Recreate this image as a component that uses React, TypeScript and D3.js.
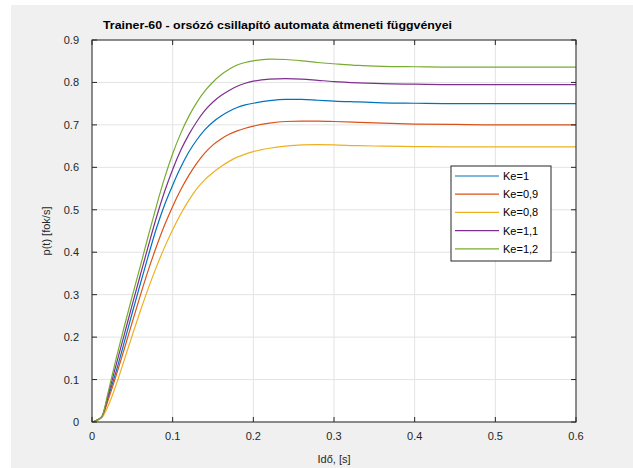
import React from "react";
import * as d3 from "d3";

const TITLE = "Trainer-60 - orsózó csillapító automata átmeneti függvényei";
const X_LABEL = "Idő, [s]";
const Y_LABEL = "p(t) [fok/s]";

const xTicks = [0, 0.1, 0.2, 0.3, 0.4, 0.5, 0.6];
const yTicks = [0, 0.1, 0.2, 0.3, 0.4, 0.5, 0.6, 0.7, 0.8, 0.9];

const time = [0, 0.012, 0.02, 0.03, 0.04, 0.05, 0.06, 0.07, 0.08, 0.09, 0.1, 0.11, 0.12, 0.13, 0.14, 0.15, 0.16, 0.17, 0.18, 0.19, 0.2, 0.22, 0.24, 0.26, 0.28, 0.3, 0.33, 0.36, 0.4, 0.45, 0.5, 0.55, 0.6];

const ke10 = [0, 0.012, 0.058, 0.12, 0.188, 0.258, 0.326, 0.393, 0.457, 0.512, 0.558, 0.6, 0.636, 0.665, 0.689, 0.707, 0.721, 0.732, 0.741, 0.747, 0.751, 0.757, 0.76, 0.76, 0.758, 0.756, 0.754, 0.752, 0.751, 0.75, 0.75, 0.75, 0.75];
const ke09 = [0, 0.011, 0.052, 0.11, 0.172, 0.236, 0.299, 0.359, 0.414, 0.464, 0.508, 0.547, 0.581, 0.61, 0.634, 0.653, 0.667, 0.678, 0.686, 0.692, 0.697, 0.704, 0.708, 0.709, 0.709, 0.708, 0.706, 0.704, 0.702, 0.701, 0.7, 0.7, 0.7];
const ke08 = [0, 0.01, 0.038, 0.088, 0.146, 0.205, 0.262, 0.316, 0.366, 0.412, 0.453, 0.49, 0.522, 0.55, 0.571, 0.588, 0.602, 0.614, 0.624, 0.631, 0.637, 0.645, 0.65, 0.653, 0.6535, 0.653, 0.651, 0.65, 0.649, 0.648, 0.648, 0.648, 0.648];
const ke11 = [0, 0.012, 0.064, 0.135, 0.206, 0.277, 0.347, 0.416, 0.483, 0.543, 0.595, 0.64, 0.677, 0.708, 0.734, 0.754, 0.769, 0.781, 0.791, 0.798, 0.803, 0.808, 0.809, 0.808, 0.805, 0.802, 0.799, 0.797, 0.796, 0.795, 0.795, 0.795, 0.795];
const ke12 = [0, 0.012, 0.07, 0.15, 0.225, 0.297, 0.368, 0.44, 0.51, 0.575, 0.632, 0.68, 0.72, 0.753, 0.78, 0.801, 0.818, 0.831, 0.841, 0.847, 0.851, 0.855, 0.854, 0.851, 0.847, 0.844, 0.84, 0.838, 0.837, 0.836, 0.836, 0.836, 0.836];

const seriesNames = ["Ke=1", "Ke=0,9", "Ke=0,8", "Ke=1,1", "Ke=1,2"];
const seriesValues = [ke10, ke09, ke08, ke11, ke12];
const seriesColors = ["#0072BD", "#D95319", "#EDB120", "#7E2F8E", "#77AC30"];

const W = 633;
const H = 468;
const L = 92, R = 576, T = 40, B = 422;

export default function App() {
  const x = d3.scaleLinear().domain([0, 0.6]).range([L, R]);
  const y = d3.scaleLinear().domain([0, 0.9]).range([B, T]);
  const line = d3
    .line<number>()
    .x((_, i) => x(time[i]))
    .y((v) => y(v))
    .curve(d3.curveMonotoneX);
  const font = "'Liberation Sans', Arial, Helvetica, sans-serif";
  const axisColor = "#262626";
  const tk = 5;
  const legX = 451, legY = 166, legW = 100, legH = 95;
  return (
    <svg width={W} height={H} style={{ position: "absolute", left: 0, top: 0 }} fontFamily={font}>
      <rect x={0} y={0} width={W} height={H} fill="#ffffff" />
      <rect x={11} y={5} width={W - 11} height={H - 5} fill="#f0f0f0" />
      <rect x={L} y={T} width={R - L} height={B - T} fill="#ffffff" />
      {xTicks.map((t) => (
        <line key={"gx" + t} x1={x(t)} x2={x(t)} y1={T} y2={B} stroke="#e3e3e3" strokeWidth={1} />
      ))}
      {yTicks.map((t) => (
        <line key={"gy" + t} x1={L} x2={R} y1={y(t)} y2={y(t)} stroke="#e3e3e3" strokeWidth={1} />
      ))}
      <defs>
        <clipPath id="clip">
          <rect x={L} y={T - 2} width={R - L} height={B - T + 2} />
        </clipPath>
      </defs>
      <g clipPath="url(#clip)">
        {seriesValues.map((vals, i) => (
          <path key={i} d={line(vals) || ""} fill="none" stroke={seriesColors[i]} strokeWidth={1.2} />
        ))}
      </g>
      <rect x={L} y={T} width={R - L} height={B - T} fill="none" stroke={axisColor} strokeWidth={1} />
      {xTicks.map((t) => (
        <g key={"tx" + t}>
          <line x1={x(t)} x2={x(t)} y1={B} y2={B - tk} stroke={axisColor} />
          <line x1={x(t)} x2={x(t)} y1={T} y2={T + tk} stroke={axisColor} />
          <text x={x(t)} y={B + 18} textAnchor="middle" fontSize={11} fill={axisColor}>
            {String(t)}
          </text>
        </g>
      ))}
      {yTicks.map((t) => (
        <g key={"ty" + t}>
          <line x1={L} x2={L + tk} y1={y(t)} y2={y(t)} stroke={axisColor} />
          <line x1={R} x2={R - tk} y1={y(t)} y2={y(t)} stroke={axisColor} />
          <text x={L - 13} y={y(t) + 4} textAnchor="end" fontSize={11} fill={axisColor}>
            {String(t)}
          </text>
        </g>
      ))}
      <text x={103} y={29} fontSize={11.5} fontWeight="bold" fill="#000" textLength={349} lengthAdjust="spacingAndGlyphs">
        {TITLE}
      </text>
      <text x={(L + R) / 2} y={463} textAnchor="middle" fontSize={11} fill={axisColor}>
        {X_LABEL}
      </text>
      <text transform={`translate(50, ${(T + B) / 2}) rotate(-90)`} textAnchor="middle" fontSize={11} fill={axisColor}>
        {Y_LABEL}
      </text>
      <rect x={legX} y={legY} width={legW} height={legH} fill="#ffffff" stroke={axisColor} strokeWidth={1} />
      {seriesNames.map((n, i) => {
        const ly = 176 + i * 18.2;
        return (
          <g key={n}>
            <line x1={455} x2={499} y1={ly} y2={ly} stroke={seriesColors[i]} strokeWidth={1.2} />
            <text x={503} y={ly + 4} fontSize={11} fill="#000">
              {n}
            </text>
          </g>
        );
      })}
    </svg>
  );
}
